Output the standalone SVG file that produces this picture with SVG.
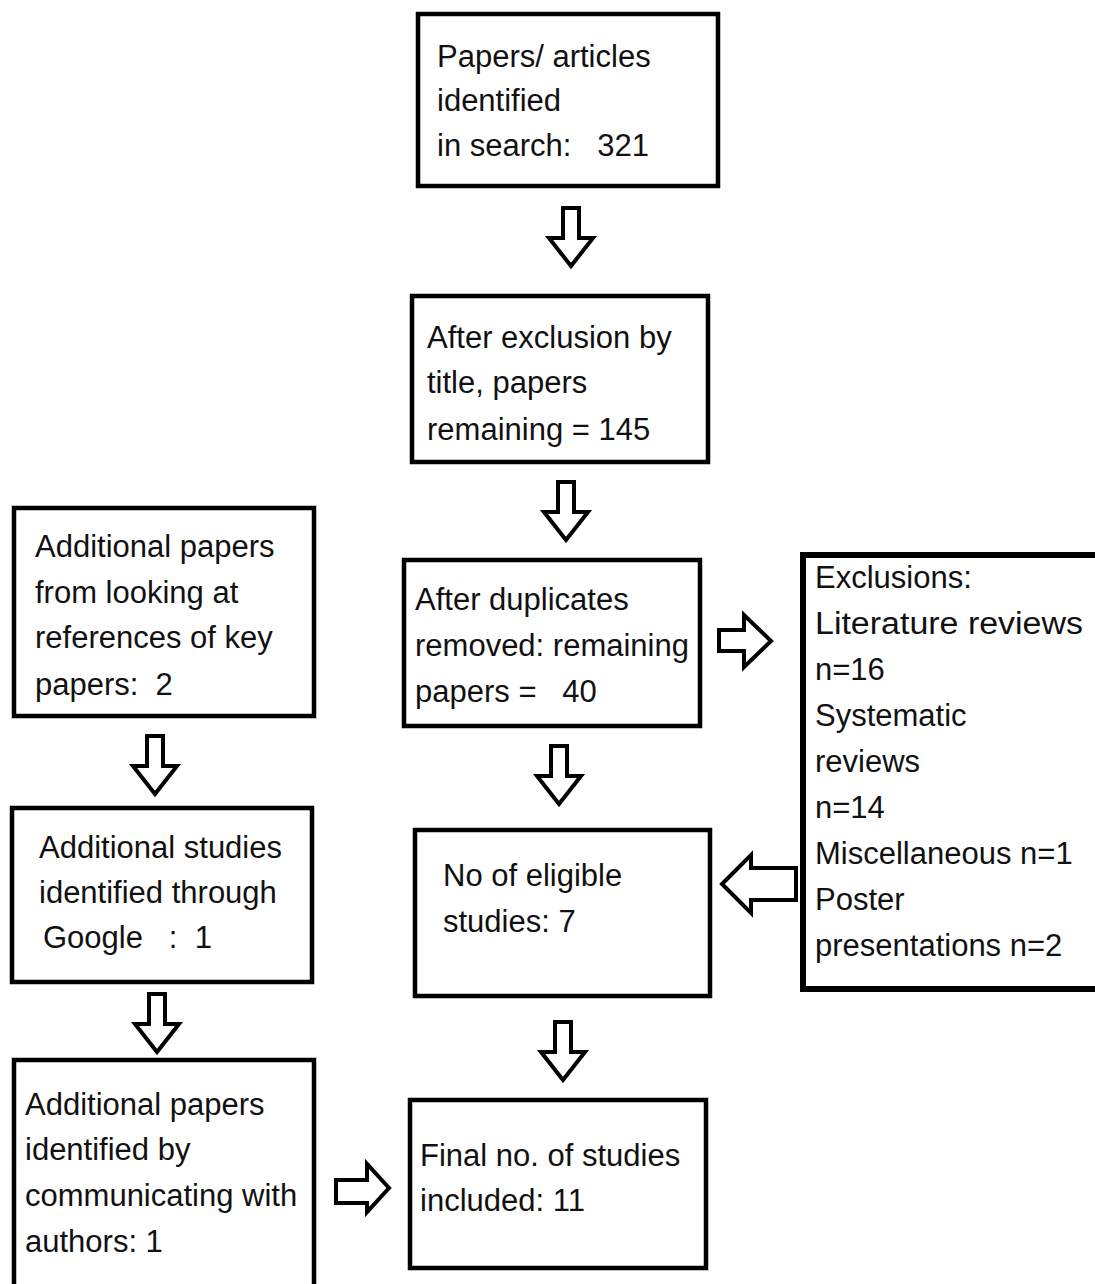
<svg xmlns="http://www.w3.org/2000/svg" width="1095" height="1284" viewBox="0 0 1095 1284">
<style>
.box{fill:#fff;stroke:#000;stroke-width:4.5}
.arr{fill:#fff;stroke:#000;stroke-width:4;stroke-linejoin:miter}
text{font-family:"Liberation Sans",Arial,sans-serif;font-size:31px;fill:#111}
</style>
<defs>
<path id="down" d="M-8,0 H8 V30 H22 L0,58 L-22,30 H-8 Z"/>
</defs>
<rect width="1095" height="1284" fill="#fff"/>
<g id="connectors">
<use href="#down" class="arr" x="571" y="208"/>
<use href="#down" class="arr" x="566" y="482"/>
<use href="#down" class="arr" x="559" y="746"/>
<use href="#down" class="arr" x="563" y="1022"/>
<use href="#down" class="arr" x="155" y="736"/>
<use href="#down" class="arr" x="157" y="994"/>
<path class="arr" d="M719,630 H744 V615 L771,641 L744,667 V651 H719 Z"/>
<path class="arr" d="M796,868 H751 V855 L722,884 L751,913 V900 H796 Z"/>
<path class="arr" d="M336,1180 H367 V1164 L389,1188 L367,1212 V1203 H336 Z"/>
</g>
<g id="n1"><rect class="box" x="418" y="14" width="300" height="172"/>
<text x="437" y="67">Papers/ articles</text><text x="437" y="111">identified</text><text x="437" y="156" xml:space="preserve">in search:   321</text></g>
<g id="n2"><rect class="box" x="412" y="296" width="296" height="166"/>
<text x="427" y="348">After exclusion by</text><text x="427" y="393">title, papers</text><text x="427" y="440">remaining = 145</text></g>
<g id="n3"><rect class="box" x="404" y="560" width="296" height="166"/>
<text x="415" y="610">After duplicates</text><text x="415" y="656">removed: remaining</text><text x="415" y="702" xml:space="preserve">papers =   40</text></g>
<g id="n4"><rect class="box" x="803" y="555" width="300" height="434" style="stroke-width:6"/>
<text x="815" y="588">Exclusions:</text><text x="815" y="634" textLength="268" lengthAdjust="spacingAndGlyphs">Literature reviews</text><text x="815" y="680">n=16</text><text x="815" y="726">Systematic</text><text x="815" y="772">reviews</text><text x="815" y="818">n=14</text><text x="815" y="864">Miscellaneous n=1</text><text x="815" y="910">Poster</text><text x="815" y="956">presentations n=2</text></g>
<g id="n5"><rect class="box" x="415" y="830" width="295" height="166"/>
<text x="443" y="886">No of eligible</text><text x="443" y="932">studies: 7</text></g>
<g id="n6"><rect class="box" x="410" y="1100" width="296" height="168"/>
<text x="420" y="1166">Final no. of studies</text><text x="420" y="1211">included: 11</text></g>
<g id="n7"><rect class="box" x="14" y="508" width="300" height="208"/>
<text x="35" y="557">Additional papers</text><text x="35" y="603">from looking at</text><text x="35" y="648">references of key</text><text x="35" y="695" xml:space="preserve">papers:  2</text></g>
<g id="n8"><rect class="box" x="12" y="808" width="300" height="174"/>
<text x="39" y="858">Additional studies</text><text x="39" y="903">identified through</text><text x="43" y="948" xml:space="preserve">Google   :  1</text></g>
<g id="n9"><rect class="box" x="14" y="1060" width="300" height="240"/>
<text x="25" y="1115">Additional papers</text><text x="25" y="1160">identified by</text><text x="25" y="1206">communicating with</text><text x="25" y="1252">authors: 1</text></g>
</svg>
